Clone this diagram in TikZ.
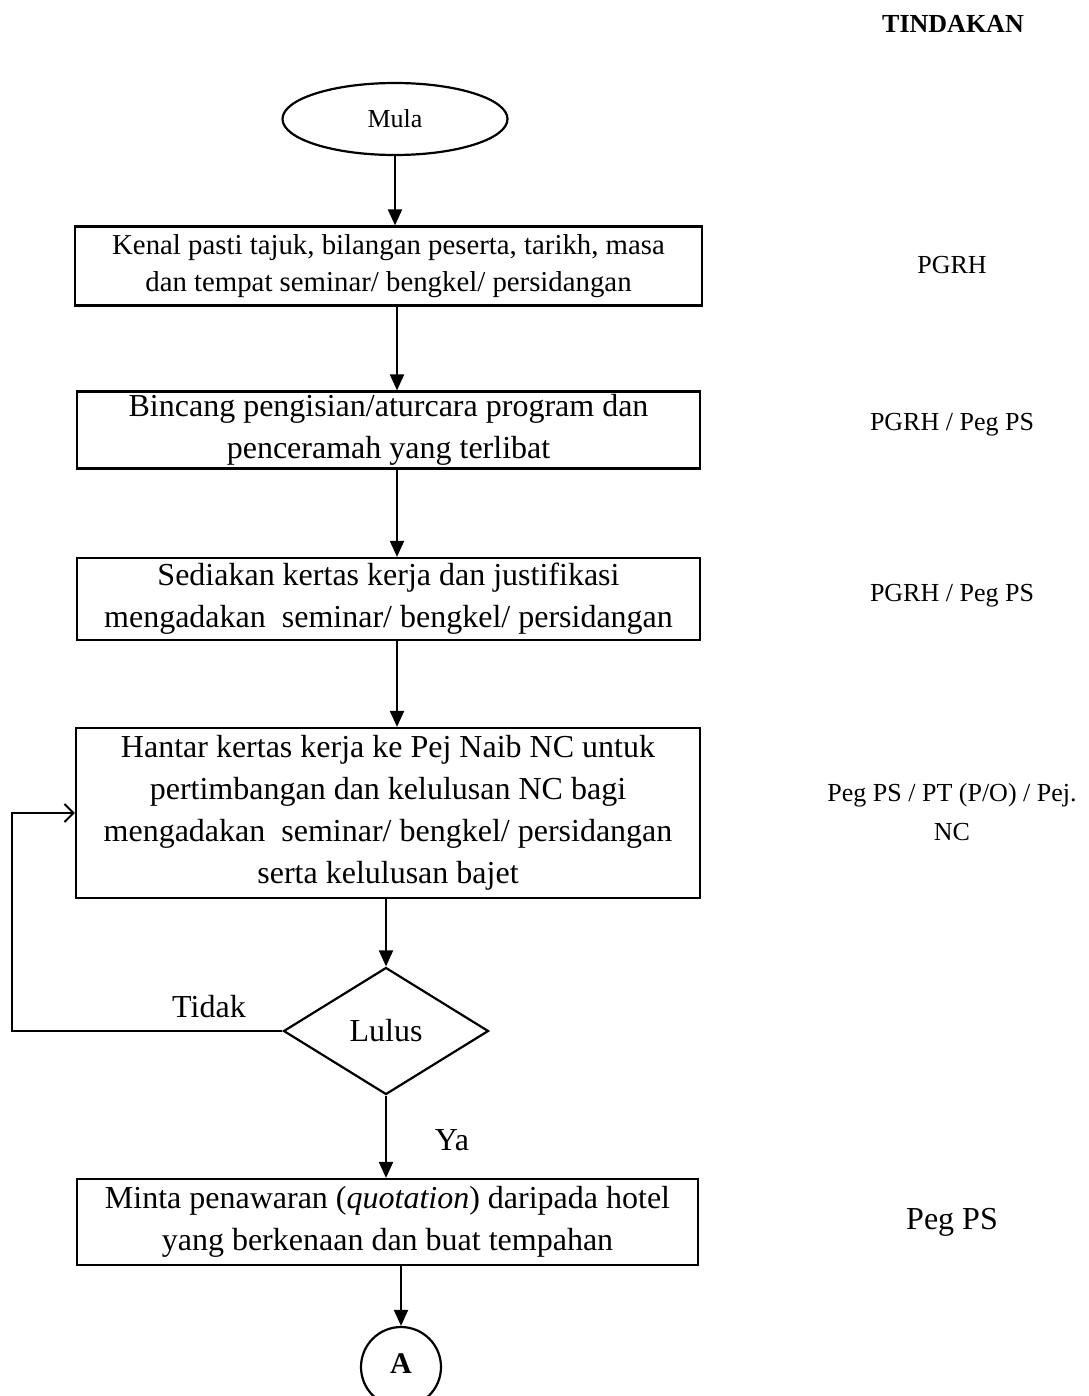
\documentclass[tikz,border=0pt]{standalone}
\usepackage{fontspec}
\setmainfont{Liberation Serif}
\usepackage{tikz}
\usetikzlibrary{shapes,arrows.meta,positioning,calc}

\newcommand{\fsz}[2]{\fontsize{#1}{#2}\selectfont}

\begin{document}
\begin{tikzpicture}[x=0.5pt, y=-0.5pt,
    langkah/.style={draw, line width=1.1pt, align=center, inner sep=0pt, font=\fsz{16}{21}},
    pelaku/.style={align=center, font=\fsz{13}{19.5}},
    label/.style={font=\fsz{16}{19}},
    panah/.style={-{Triangle[length=8pt,width=7pt]}, line width=1pt},
    balikan/.style={-{Straight Barb[length=4.5pt,width=9pt]}, line width=1pt}]
    \useasboundingbox (0,0) rectangle (1088,1396);

    % Header
    \node[font=\bfseries\fsz{13}{15}] (tindakan) at (953,24) {TINDAKAN};

    % Start
    \node[draw, ellipse, line width=1.1pt, minimum width=112.5pt, minimum height=36pt,
          inner sep=0pt, font=\fsz{13}{15}] (mula) at (395,119) {Mula};

    % Steps
    \node[langkah, font=\fsz{14.4}{18.5}, minimum width=313.5pt, minimum height=39.5pt] (kenal) at (388.5,266)
        {Kenal pasti tajuk, bilangan peserta, tarikh, masa\\ dan tempat seminar/ bengkel/ persidangan};
    \node[langkah, minimum width=311.5pt, minimum height=38.5pt] (bincang) at (388.5,430)
        {Bincang pengisian/aturcara program dan\\ penceramah yang terlibat};
    \node[langkah, minimum width=311.5pt, minimum height=41pt] (sedia) at (388.5,599)
        {Sediakan kertas kerja dan justifikasi\\ mengadakan~ seminar/ bengkel/ persidangan};
    \node[langkah, minimum width=312pt, minimum height=85pt] (hantar) at (388,813)
        {Hantar kertas kerja ke Pej Naib NC untuk\\ pertimbangan dan kelulusan NC bagi\\
         mengadakan~ seminar/ bengkel/ persidangan\\ serta kelulusan bajet};

    % Decision
    \node[draw, diamond, line width=1.1pt, minimum width=102.5pt, minimum height=63.5pt,
          inner sep=0pt, font=\fsz{16}{19}] (lulus) at (386,1031) {\raisebox{-2.5pt}{Lulus}};
    \node[label] (tidak) at (209,1007) {Tidak};
    \node[label] (ya) at (452,1140) {Ya};

    \node[langkah, minimum width=310.5pt, minimum height=43pt] (minta) at (387.5,1222)
        {Minta penawaran (\textit{quotation}) daripada hotel\\ yang berkenaan dan buat tempahan};

    % Connector
    \node[draw, circle, line width=1.1pt, minimum size=40pt, inner sep=0pt,
          font=\bfseries\fsz{15}{17}] (a) at (401,1367) {\raisebox{3pt}{A}};

    % Actions
    \node[pelaku] (p1) at (952,265) {PGRH};
    \node[pelaku] (p2) at (952,425) {PGRH / Peg PS};
    \node[pelaku] (p3) at (952,596) {PGRH / Peg PS};
    \node[pelaku] (p4) at (952,812) {Peg PS / PT (P/O) / Pej.\\ NC};
    \node[pelaku, font=\fsz{16}{19}] (p5) at (952,1222) {Peg PS};

    % Arrows
    \coordinate (tulang) at (397,0);
    \draw[panah] (mula.south) -- (mula.south |- kenal.north);
    \draw[panah] (kenal.south -| tulang) -- (bincang.north -| tulang);
    \draw[panah] (bincang.south -| tulang) -- (sedia.north -| tulang);
    \draw[panah] (sedia.south -| tulang) -- (hantar.north -| tulang);
    \draw[panah] (hantar.south -| lulus.north) -- (lulus.north);
    \draw[panah] (lulus.south) -- (lulus.south |- minta.north);
    \draw[panah] (minta.south -| a.north) -- (a.north);

    % Loop back
    \coordinate (balik) at (12,1031);
    \draw[balikan] (lulus.west) -- (balik) |- (hantar.west);
\end{tikzpicture}
\end{document}
